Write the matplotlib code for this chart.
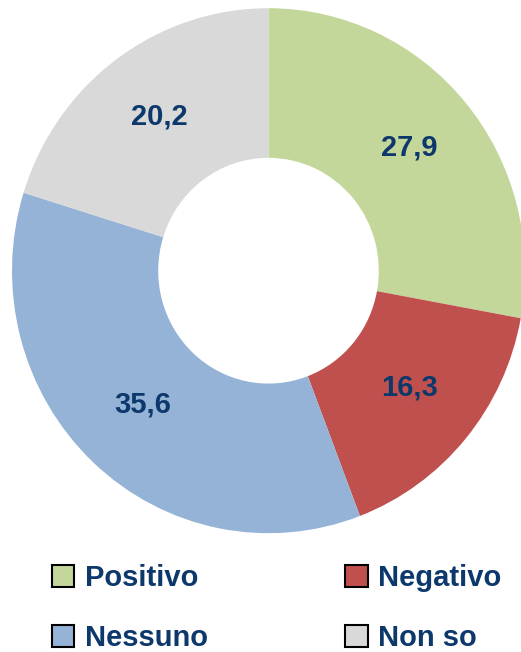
import matplotlib
matplotlib.use("Agg")
import matplotlib.pyplot as plt
import matplotlib.transforms as mtransforms
from matplotlib.patches import Patch

categories = ["Positivo", "Negativo", "Nessuno", "Non so"]
values = [27.9, 16.3, 35.6, 20.2]
colors = ["#C4D79B", "#C0504D", "#95B3D7", "#D9D9D9"]
text_color = "#0D386B"

plt.rcParams['font.family'] = ['Liberation Sans', 'DejaVu Sans']

fig = plt.figure(figsize=(5.21, 6.52), dpi=100)
fig.patch.set_facecolor("white")

W, H = 521, 652
cx, cy, Rx, Ry = 268.5, 270.7, 256.5, 262.5
ax = fig.add_axes([(cx - Rx) / W, 1 - (cy + Ry) / H, 2 * Rx / W, 2 * Ry / H])

labels = [f"{v:.1f}".replace(".", ",") for v in values]
wedges, texts = ax.pie(values, colors=colors, startangle=90, counterclock=False,
                       radius=1.0, labels=labels, labeldistance=0.715,
                       wedgeprops=dict(width=0.57, edgecolor="none"),
                       textprops=dict(color=text_color, fontsize=21, fontweight="bold"))
shift = mtransforms.offset_copy(ax.transData, fig=fig, x=0, y=3.5, units="dots")
for t in texts:
    t.set_horizontalalignment("center")
    t.set_verticalalignment("center")
    t.set_transform(shift)
ax.set_xlim(-1, 1)
ax.set_ylim(-1, 1)
ax.set_aspect("auto")
for w in wedges:
    w.set_clip_on(False)

handles = [Patch(facecolor=c, edgecolor="black", linewidth=1.5) for c in colors]
# column-major order for ncol=2: col1: Positivo, Nessuno ; col2: Negativo, Non so
order = [0, 2, 1, 3]
leg = fig.legend([handles[i] for i in order], [categories[i] for i in order],
                 ncol=2, loc="upper left", bbox_to_anchor=(51.7 / W, 1 - 564 / H),
                 frameon=False, borderpad=0, borderaxespad=0,
                 handlelength=0.78, handleheight=0.78, handletextpad=0.36,
                 columnspacing=4.7, labelspacing=1.09,
                 prop=dict(size=21, weight="bold"))
for t in leg.get_texts():
    t.set_color(text_color)

fig.savefig("out.png", dpi=100, facecolor="white")
